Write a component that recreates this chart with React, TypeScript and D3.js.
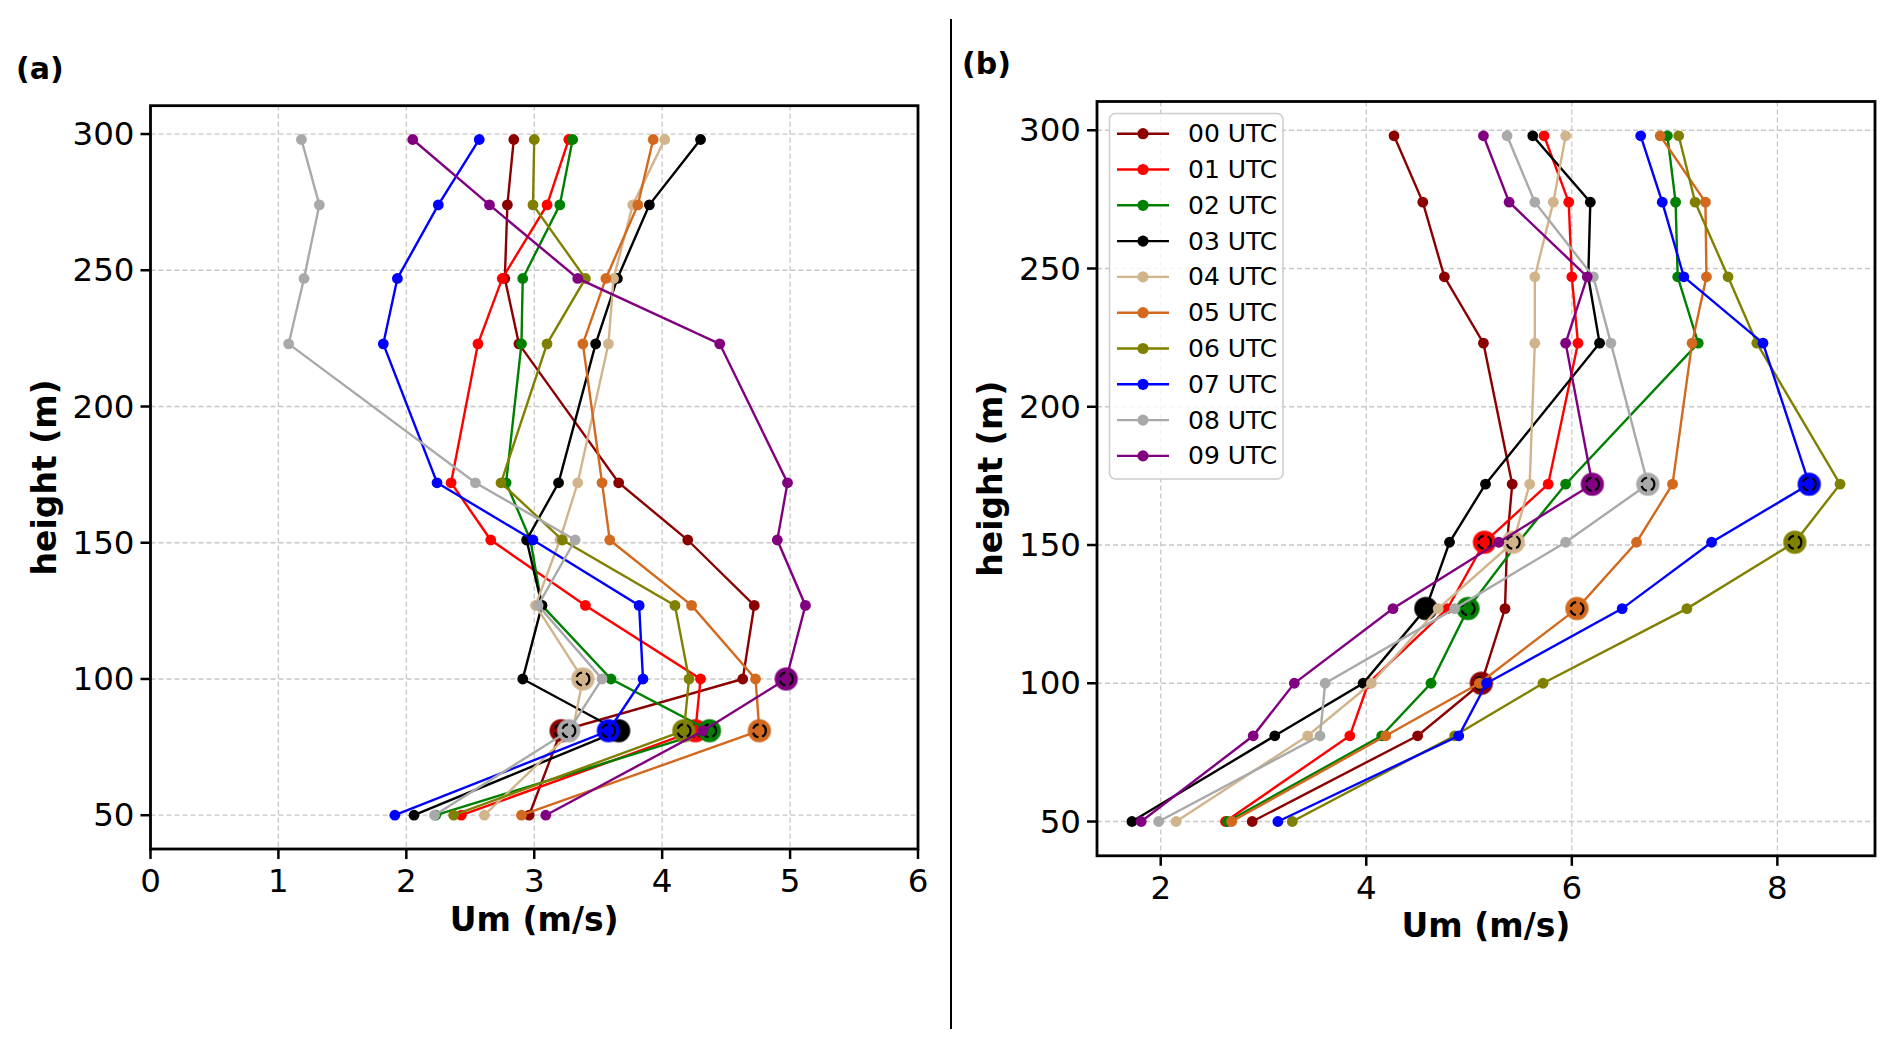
import React, { useEffect } from "react";
import * as d3 from "d3";

// measurement heights (m)
const heights = [50, 81, 100, 127, 151, 172, 223, 247, 274, 298];
const hours = ["00 UTC", "01 UTC", "02 UTC", "03 UTC", "04 UTC", "05 UTC", "06 UTC", "07 UTC", "08 UTC", "09 UTC"];
const colors = ["#8b0000", "#ff0000", "#008000", "#000000", "#d2b48c", "#d2691e", "#808000", "#0000ff", "#a9a9a9", "#800080"];

// panel (a): Um per hour, ordered like heights
const umA = [
  [2.96, 3.21, 4.63, 4.72, 4.2, 3.66, 2.88, 2.77, 2.79, 2.84],
  [2.43, 4.26, 4.3, 3.4, 2.66, 2.35, 2.56, 2.75, 3.1, 3.27],
  [2.23, 4.37, 3.6, 3.06, 2.97, 2.78, 2.9, 2.91, 3.2, 3.3],
  [2.06, 3.66, 2.91, 3.06, 2.94, 3.19, 3.48, 3.65, 3.9, 4.3],
  [2.61, 3.3, 3.38, 3.01, 3.2, 3.34, 3.58, 3.62, 3.77, 4.02],
  [2.9, 4.76, 4.73, 4.23, 3.59, 3.53, 3.38, 3.56, 3.81, 3.93],
  [2.37, 4.17, 4.21, 4.1, 3.22, 2.74, 3.1, 3.4, 2.99, 3.0],
  [1.91, 3.58, 3.85, 3.82, 2.99, 2.24, 1.82, 1.93, 2.25, 2.57],
  [2.22, 3.27, 3.53, 3.03, 3.32, 2.54, 1.08, 1.2, 1.32, 1.18],
  [3.09, 4.32, 4.97, 5.12, 4.9, 4.98, 4.45, 3.34, 2.65, 2.05],
];
// index of the highlighted level per hour
const markA = [1, 1, 1, 1, 2, 1, 1, 1, 1, 2];

// panel (b)
const umB = [
  [2.89, 4.5, 5.12, 5.35, 5.37, 5.42, 5.14, 4.76, 4.55, 4.27],
  [2.63, 3.84, 4.02, 4.79, 5.15, 5.77, 6.06, 6.0, 5.97, 5.73],
  [2.65, 4.15, 4.63, 4.99, 5.48, 5.94, 7.23, 7.03, 7.01, 6.93],
  [1.72, 3.11, 3.97, 4.58, 4.81, 5.16, 6.27, 6.16, 6.18, 5.62],
  [2.15, 3.43, 4.05, 4.7, 5.43, 5.59, 5.64, 5.64, 5.82, 5.94],
  [2.69, 4.19, 5.1, 6.05, 6.63, 6.98, 7.17, 7.31, 7.3, 6.86],
  [3.28, 4.86, 5.72, 7.12, 8.17, 8.61, 7.8, 7.52, 7.2, 7.04],
  [3.14, 4.9, 5.17, 6.49, 7.36, 8.31, 7.86, 7.09, 6.88, 6.67],
  [1.98, 3.55, 3.6, 4.86, 5.94, 6.74, 6.38, 6.21, 5.64, 5.37],
  [1.81, 2.9, 3.3, 4.26, 5.29, 6.2, 5.94, 6.15, 5.39, 5.14],
];
const markB = [2, 4, 3, 3, 4, 3, 4, 5, 5, 5];

const yTicks = [50, 100, 150, 200, 250, 300];
const xTicksA = [0, 1, 2, 3, 4, 5, 6];
const xTicksB = [2, 4, 6, 8];

const FONT = "DejaVu Sans, sans-serif";

const Panel = ({ values, marks, xDomain, xTicks, box, tag, tagPos, yLabelX, legend }) => {
  const x = d3.scaleLinear().domain(xDomain).range([box.left, box.right]);
  const y = d3.scaleLinear().domain([37.6, 310.4]).range([box.bottom, box.top]);
  const line = d3
    .line()
    .x((d) => x(d[0]))
    .y((d) => y(d[1]));

  return (
    <g>
      <text x={tagPos[0]} y={tagPos[1]} fontFamily={FONT} fontWeight="bold" fontSize={30} dominantBaseline="middle">
        {tag}
      </text>
      {/* grid */}
      {xTicks.map((t) => (
        <line key={"gx" + t} x1={x(t)} x2={x(t)} y1={box.top} y2={box.bottom} stroke="#c8c8c8" strokeWidth={1.3} strokeDasharray="5,3" />
      ))}
      {yTicks.map((t) => (
        <line key={"gy" + t} x1={box.left} x2={box.right} y1={y(t)} y2={y(t)} stroke="#c8c8c8" strokeWidth={1.3} strokeDasharray="5,3" />
      ))}
      {/* series */}
      {values.map((vals, i) => {
        const pts = vals.map((v, j) => [v, heights[j]]);
        const m = pts[marks[i]];
        return (
          <g key={"s" + i}>
            <path d={line(pts)} fill="none" stroke={colors[i]} strokeWidth={2.4} />
            {pts.map((p, j) => (
              <circle key={j} cx={x(p[0])} cy={y(p[1])} r={5.4} fill={colors[i]} />
            ))}
            <circle cx={x(m[0])} cy={y(m[1])} r={11} fill={colors[i]} stroke={colors[i]} strokeOpacity={0.6} strokeWidth={2} />
            <circle cx={x(m[0])} cy={y(m[1])} r={6.5} fill="none" stroke="#000" strokeWidth={2.2} strokeDasharray="7,4" />
          </g>
        );
      })}
      {/* frame */}
      <rect x={box.left} y={box.top} width={box.right - box.left} height={box.bottom - box.top} fill="none" stroke="#000" strokeWidth={2.8} />
      {/* x axis */}
      {xTicks.map((t) => (
        <g key={"xt" + t}>
          <line x1={x(t)} x2={x(t)} y1={box.bottom} y2={box.bottom + 10} stroke="#000" strokeWidth={2.5} />
          <text x={x(t)} y={box.bottom + 43} textAnchor="middle" fontFamily={FONT} fontSize={32.5}>
            {t}
          </text>
        </g>
      ))}
      {/* y axis */}
      {yTicks.map((t) => (
        <g key={"yt" + t}>
          <line x1={box.left - 10} x2={box.left} y1={y(t)} y2={y(t)} stroke="#000" strokeWidth={2.5} />
          <text x={box.left - 16} y={y(t)} textAnchor="end" dominantBaseline="central" fontFamily={FONT} fontSize={32.5}>
            {t}
          </text>
        </g>
      ))}
      <text x={(box.left + box.right) / 2} y={box.bottom + 81.5} textAnchor="middle" fontFamily={FONT} fontWeight="bold" fontSize={33}>
        Um (m/s)
      </text>
      <text
        transform={`translate(${yLabelX},${(box.top + box.bottom) / 2}) rotate(-90)`}
        textAnchor="middle"
        dominantBaseline="central"
        fontFamily={FONT}
        fontWeight="bold"
        fontSize={33}
      >
        height (m)
      </text>
      {legend && (
        <g>
          <rect x={1109.5} y={113.5} width={173.5} height={365.5} rx={6} fill="#fff" fillOpacity={0.8} stroke="#cccccc" strokeWidth={1.5} />
          {hours.map((h, i) => {
            const ly = 133.7 + i * 35.8;
            return (
              <g key={h}>
                <line x1={1117} x2={1169} y1={ly} y2={ly} stroke={colors[i]} strokeWidth={2.4} />
                <circle cx={1143} cy={ly} r={5.6} fill={colors[i]} />
                <text x={1188} y={ly} dominantBaseline="central" fontFamily={FONT} fontSize={25}>
                  {h}
                </text>
              </g>
            );
          })}
        </g>
      )}
    </g>
  );
};

export default function App() {
  useEffect(() => {
    document.body.style.margin = "0";
    document.body.style.overflow = "hidden";
  }, []);

  return (
    <svg width={1892} height={1045} viewBox="0 0 1892 1045" style={{ display: "block", background: "#fff" }}>
      <rect width={1892} height={1045} fill="#fff" />
      <Panel
        values={umA}
        marks={markA}
        xDomain={[0, 6]}
        xTicks={xTicksA}
        box={{ left: 150.5, right: 918, top: 105.7, bottom: 849 }}
        tag="(a)"
        tagPos={[16, 70]}
        yLabelX={44}
        legend={false}
      />
      <Panel
        values={umB}
        marks={markB}
        xDomain={[1.38, 8.95]}
        xTicks={xTicksB}
        box={{ left: 1097, right: 1875, top: 101.5, bottom: 855.8 }}
        tag="(b)"
        tagPos={[962, 65]}
        yLabelX={990}
        legend={true}
      />
      <line x1={951} x2={951} y1={19} y2={1029} stroke="#000" strokeWidth={2} />
    </svg>
  );
}
